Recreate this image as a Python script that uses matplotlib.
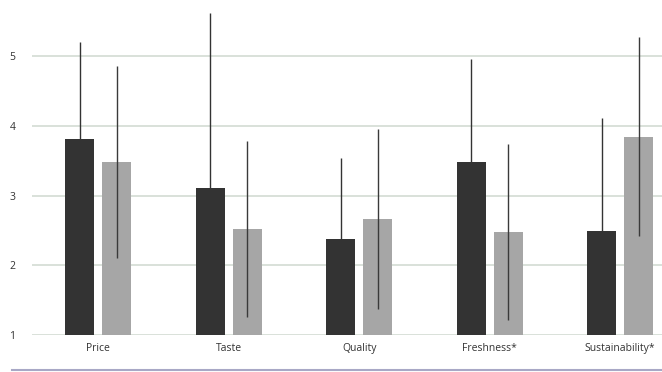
import matplotlib
matplotlib.use("Agg")
import matplotlib.pyplot as plt
from matplotlib.lines import Line2D
import numpy as np

plt.rcParams['font.family'] = ['Open Sans', 'DejaVu Sans']

categories = ["Price", "Taste", "Quality", "Freshness*", "Sustainability*"]
group_a_mean = [3.82, 3.11, 2.38, 3.49, 2.49]
group_a_sd = [1.39, 2.51, 1.16, 1.47, 1.63]
group_b_mean = [3.48, 2.52, 2.67, 2.48, 3.85]
group_b_sd = [1.38, 1.26, 1.29, 1.26, 1.43]
y_ticks = [1, 2, 3, 4, 5]

fig = plt.figure(figsize=(6.62, 3.72), dpi=100)
ax = fig.add_axes([32 / 662, 37 / 372, 1 - 32 / 662, 335 / 372])

x = np.arange(len(categories))
offset = 0.142
width = 0.225
base = 1.0

ax.bar(x - offset, np.array(group_a_mean) - base, width, bottom=base,
       color="#333333", zorder=2)
ax.bar(x + offset, np.array(group_b_mean) - base, width, bottom=base,
       color="#a6a6a6", zorder=2)
ax.errorbar(x - offset, group_a_mean, yerr=group_a_sd, fmt="none",
            ecolor="#333333", elinewidth=1.0, capsize=0, zorder=3)
ax.errorbar(x + offset, group_b_mean, yerr=group_b_sd, fmt="none",
            ecolor="#3a3a3a", elinewidth=1.0, capsize=0, zorder=3)

ax.set_xlim(-0.508, 4.32)
ax.set_ylim(1, 5.81)
ax.set_yticks(y_ticks)
ax.set_yticklabels([str(t) for t in y_ticks], fontsize=7.5, color="#333333")
ax.set_xticks(x)
ax.set_xticklabels(categories, fontsize=7.5, color="#333333")
ax.tick_params(axis="both", length=0)
ax.tick_params(axis="y", pad=12)
ax.tick_params(axis="x", pad=6)
ax.grid(axis="y", color="#d3dbd3", linewidth=1.2, zorder=0)
ax.set_axisbelow(True)
for s in ax.spines.values():
    s.set_visible(False)

# thin rule along the bottom of the figure
fig.add_artist(Line2D([12 / 662, 1.0], [2.5 / 372, 2.5 / 372],
                      transform=fig.transFigure, color="#a8a8c6", linewidth=1.5))

fig.savefig("out.png", dpi=100)
